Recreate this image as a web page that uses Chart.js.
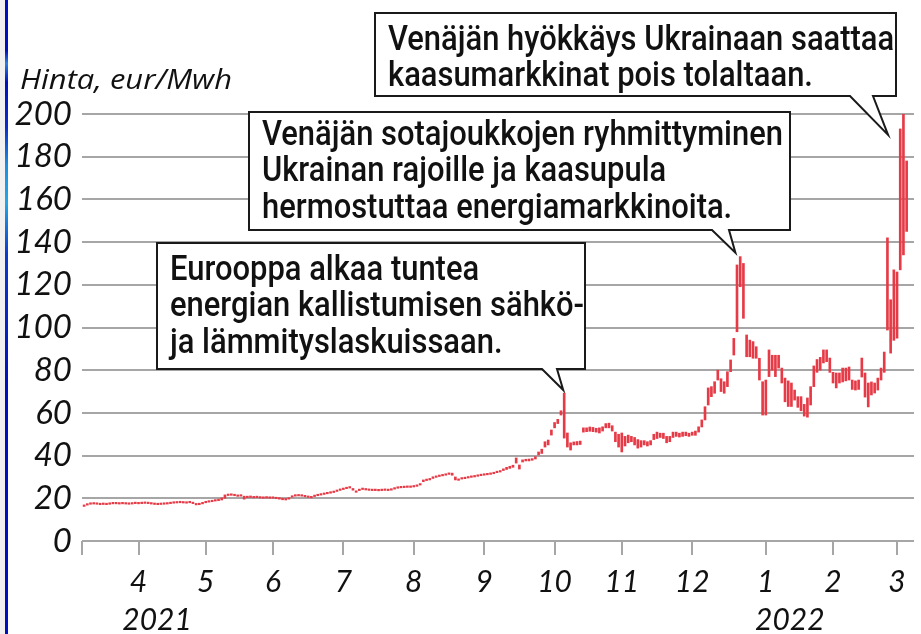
<!DOCTYPE html>
<html>
<head>
<meta charset="utf-8">
<script src="https://cdn.jsdelivr.net/npm/chart.js@4/dist/chart.umd.min.js"></script>
<style>
  html, body { margin: 0; padding: 0; background: #fff; }
  #wrap { position: relative; width: 921px; height: 634px; }
  #edge { position: absolute; left: 0; top: 0; width: 5px; height: 634px; background: #f1f1f1; }
  #bar { position: absolute; left: 5px; top: 0; width: 3px; height: 634px;
    background: linear-gradient(to bottom, #0010c0 0%, #0010c0 8%, #2c7fe0 10%, #0010c0 13%, #0a2cd0 20%, #1a8fe0 26%, #20a8e8 32%, #0a3ad0 40%, #0010c0 60%, #0010c0 100%); }
</style>
</head>
<body>
<div id="wrap">
  <canvas id="gasChart" width="921" height="634"></canvas>
  <div id="edge"></div>
  <div id="bar"></div>
</div>
<script>
// daily low / high, eur/MWh, one value per trading day (9.3.2021 - 4.3.2022)
const lows = [
  // 3/2021
  16.2,16.8,17.2,17.3,17.2,17.0,17.1,17.0,17.2,17.4,17.4,17.3,17.4,17.3,17.2,17.3,17.5,
  // 4
  17.4,17.5,17.6,17.5,17.3,17.1,17.0,17.1,17.2,17.3,17.5,17.7,17.8,17.9,17.8,17.7,17.9,17.5,16.9,17.0,17.4,
  // 5
  17.9,18.2,18.4,18.7,18.9,19.2,20.0,21.3,21.4,21.2,20.9,21.0,19.6,20.3,20.4,20.2,20.3,20.1,20.0,20.1,20.0,
  // 6
  20.0,19.8,19.6,19.3,19.2,19.6,20.5,21.0,21.1,21.0,20.7,20.4,20.2,20.8,21.2,21.5,21.8,22.1,22.4,22.7,23.2,23.7,
  // 7
  24.1,24.5,24.8,23.8,22.8,23.6,24.1,23.9,23.7,23.6,23.6,23.5,23.6,23.7,23.6,23.8,24.3,24.7,24.9,25.0,25.1,25.1,
  // 8
  25.3,25.6,26.2,27.8,28.3,28.6,29.3,29.8,30.2,30.5,30.8,31.2,30.8,28.6,28.4,29.0,29.2,29.5,29.8,30.0,30.3,30.6,
  // 9
  30.8,31.0,31.2,31.5,32.0,32.3,33.0,33.5,34.0,34.5,36.5,33.7,37.0,37.5,37.5,37.8,38.4,40.3,41.0,44.0,45.0,49.6,
  // 10
  53.0,55.0,59.0,48.2,44.0,42.6,45.0,45.0,45.2,51.0,51.2,51.4,51.2,51.0,50.6,51.5,53.0,53.0,51.5,46.5,44.0,
  // 11
  41.7,44.5,46.0,46.5,45.0,43.5,44.0,45.0,44.5,45.0,47.5,48.0,48.5,48.0,46.0,46.5,48.5,49.0,48.7,49.0,49.3,49.0,
  // 12
  49.5,49.5,51.0,53.4,56.7,63.7,67.6,69.2,75.4,70.0,69.2,72.3,79.3,87.1,98.0,119.1,104.3,86.3,86.3,85.6,85.6,75.4,59.0,
  // 1/2022
  59.0,77.0,80.0,77.0,81.0,74.0,65.2,63.0,63.0,66.0,62.6,61.0,58.5,58.0,63.7,72.3,79.0,80.0,83.4,84.0,79.0,
  // 2
  74.0,71.7,74.0,74.5,75.0,75.4,71.0,70.7,71.0,76.8,67.4,62.8,68.4,69.3,70.7,75.4,79.0,98.8,88.0,94.0,
  // 3
  95.0,127.0,134.0,145.0
];
const highs = [
  // 3/2021
  16.8,17.4,17.8,17.9,17.7,17.6,17.6,17.5,17.8,17.9,18.0,17.8,17.9,17.8,17.7,17.8,18.0,
  // 4
  17.9,18.0,18.1,18.0,17.8,17.6,17.5,17.6,17.7,17.8,18.0,18.2,18.3,18.4,18.3,18.2,18.4,18.0,17.5,17.6,18.0,
  // 5
  18.4,18.7,19.0,19.2,19.5,20.2,21.6,22.0,22.1,21.8,21.5,21.5,21.0,20.9,21.0,20.7,20.8,20.6,20.5,20.6,20.5,
  // 6
  20.5,20.3,20.2,19.8,19.7,20.2,21.1,21.5,21.6,21.5,21.2,20.9,20.7,21.3,21.7,22.0,22.3,22.6,22.9,23.2,23.8,24.3,
  // 7
  24.7,25.1,25.4,24.6,23.5,24.3,24.7,24.4,24.2,24.1,24.1,24.0,24.1,24.2,24.1,24.3,24.8,25.2,25.4,25.5,25.6,25.6,
  // 8
  25.9,26.2,26.9,28.6,29.0,29.3,30.1,30.5,30.8,31.1,31.4,31.9,31.8,30.0,29.0,29.6,29.8,30.1,30.4,30.6,30.9,31.2,
  // 9
  31.4,31.6,31.8,32.1,32.6,33.0,33.8,34.5,35.0,35.5,38.9,35.6,38.0,38.3,38.4,38.6,39.5,41.7,43.0,46.5,47.3,52.0,
  // 10
  55.5,57.0,61.0,69.3,50.6,46.0,46.4,46.6,46.8,53.0,53.0,53.4,53.2,52.8,53.0,53.5,55.0,55.2,54.0,51.0,50.0,
  // 11
  50.6,49.0,49.6,49.0,48.5,47.5,47.0,47.0,46.5,47.0,50.0,51.0,50.5,50.5,49.0,49.0,51.0,51.0,50.5,51.0,51.0,50.5,
  // 12
  51.0,51.5,53.5,56.7,62.9,71.7,72.3,74.6,80.0,76.0,74.6,79.3,84.8,94.9,129.3,133.2,130.0,96.5,94.1,93.4,91.0,85.6,74.6,
  // 1/2022
  75.4,89.5,87.0,87.0,87.0,81.0,76.3,75.0,74.0,70.7,67.6,67.6,64.0,67.0,72.3,82.0,85.0,86.0,89.5,89.5,85.7,
  // 2
  79.0,78.7,78.7,81.0,81.0,81.5,75.4,75.0,75.4,85.7,78.7,74.0,74.5,74.0,76.3,81.0,88.5,142.0,113.0,127.0,
  // 3
  126.0,193.0,200.0,178.0
];

// first trading day of each month (index into the arrays above)
const monthStarts = [17, 38, 59, 81, 103, 125, 147, 168, 190, 213, 234, 254];
const monthLabels = ['4', '5', '6', '7', '8', '9', '10', '11', '12', '1', '2', '3'];
const yearLabels = ['2021', '2022'];
const yearAt = [22.8, 220.5];
const yTicks = [0, 20, 40, 60, 80, 100, 120, 140, 160, 180, 200];
const axisTitle = 'Hinta, eur/Mwh';

// callouts: text lines and the point (trading day, price) the tail points at
const noteLines = [
  ['Eurooppa alkaa tuntea', 'energian kallistumisen sähkö-', 'ja lämmityslaskuissaan.'],
  ['Venäjän sotajoukkojen ryhmittyminen', 'Ukrainan rajoille ja kaasupula', 'hermostuttaa energiamarkkinoita.'],
  ['Venäjän hyökkäys Ukrainaan saattaa', 'kaasumarkkinat pois tolaltaan.']
];
const noteTargets = [[149.7, 70.7], [203.5, 135], [251.2, 190.2]];

const X_MIN = -0.66, X_MAX = 259.3;
const tickFont = '"Lato", "Open Sans", sans-serif';

// box placement for each callout (px) and where its tail leaves the bottom edge
const noteBoxes = [
  { x: 157, y: 243, w: 428, h: 126, tail: [542, 557], first: 28 },
  { x: 249, y: 112, w: 541, h: 118, tail: [712, 729], first: 24 },
  { x: 375, y: 13,  w: 521, h: 83,  tail: [850, 873], first: 28 }
];

const calloutPlugin = {
  id: 'callouts',
  afterDatasetsDraw(chart) {
    const ctx = chart.ctx;
    const xs = chart.scales.x, ys = chart.scales.y;

    // axis title, stretched to the width it has in the print
    ctx.save();
    ctx.fillStyle = '#111';
    ctx.font = 'italic 27px "Open Sans", sans-serif';
    ctx.textAlign = 'left';
    ctx.textBaseline = 'alphabetic';
    const tw = ctx.measureText(axisTitle).width;
    ctx.save();
    ctx.translate(20, 89);
    ctx.scale(212 / tw, 1);
    ctx.fillText(axisTitle, 0, 0);
    ctx.restore();

    // year labels under the month ticks
    ctx.font = 'italic 30px ' + tickFont;
    ctx.textAlign = 'center';
    ctx.textBaseline = 'middle';
    yearLabels.forEach((lab, i) => {
      ctx.fillText(lab, xs.getPixelForValue(yearAt[i]), 620);
    });

    // speech bubbles
    ctx.font = '500 35px Roboto, "Liberation Sans", sans-serif';
    const sx = 521 / ctx.measureText(noteLines[1][0]).width;
    noteBoxes.forEach((b, n) => {
      const tx = xs.getPixelForValue(noteTargets[n][0]);
      const ty = ys.getPixelForValue(noteTargets[n][1]);
      const bottom = b.y + b.h;
      ctx.beginPath();
      ctx.moveTo(b.x, b.y);
      ctx.lineTo(b.x + b.w, b.y);
      ctx.lineTo(b.x + b.w, bottom);
      ctx.lineTo(b.tail[1], bottom);
      ctx.lineTo(tx, ty);
      ctx.lineTo(b.tail[0], bottom);
      ctx.lineTo(b.x, bottom);
      ctx.closePath();
      ctx.fillStyle = '#fff';
      ctx.fill();
      ctx.lineWidth = 2;
      ctx.lineJoin = 'miter';
      ctx.strokeStyle = '#1a1a1a';
      ctx.stroke();

      ctx.fillStyle = '#111';
      ctx.textAlign = 'left';
      ctx.textBaseline = 'middle';
      noteLines[n].forEach((line, k) => {
        ctx.save();
        ctx.translate(b.x + 13, b.y + b.first + k * 36.5);
        ctx.scale(sx, 1);
        ctx.fillText(line, 0, 0);
        ctx.restore();
      });
    });
    ctx.restore();
  }
};

new Chart(document.getElementById('gasChart'), {
  type: 'bar',
  data: {
    datasets: [{
      data: lows.map((lo, i) => ({ x: i, y: [lo, highs[i]] })),
      backgroundColor: '#e63b47',
      borderWidth: 0,
      barThickness: 2,
      minBarLength: 1.5,
      grouped: false
    }]
  },
  options: {
    responsive: false,
    animation: false,
    layout: { padding: { top: 114, right: 7, left: 0, bottom: 0 } },
    plugins: { legend: { display: false }, tooltip: { enabled: false } },
    scales: {
      x: {
        type: 'linear',
        offset: false,
        min: X_MIN,
        max: X_MAX,
        afterBuildTicks: scale => {
          scale.ticks = [X_MIN].concat(monthStarts).map(v => ({ value: v }));
        },
        afterFit: scale => { scale.height = 93; },
        grid: { offset: false, drawOnChartArea: false, drawTicks: true, tickLength: 14, color: '#a6a6a6', lineWidth: 2 },
        border: { display: false },
        ticks: {
          autoSkip: false,
          maxRotation: 0,
          padding: 9,
          color: '#111',
          font: { family: tickFont, size: 30, style: 'italic' },
          callback: function(value) {
            const k = monthStarts.indexOf(value);
            return k >= 0 ? monthLabels[k] : '';
          }
        }
      },
      y: {
        min: 0,
        max: 200,
        afterBuildTicks: scale => { scale.ticks = yTicks.map(v => ({ value: v })); },
        afterFit: scale => { scale.width = 82; },
        grid: { drawTicks: false, color: '#a6a6a6', lineWidth: 2 },
        border: { display: false },
        ticks: {
          padding: 10,
          color: '#111',
          font: { family: tickFont, size: 33, style: 'italic' }
        }
      }
    }
  },
  plugins: [calloutPlugin]
});
</script>
</body>
</html>
